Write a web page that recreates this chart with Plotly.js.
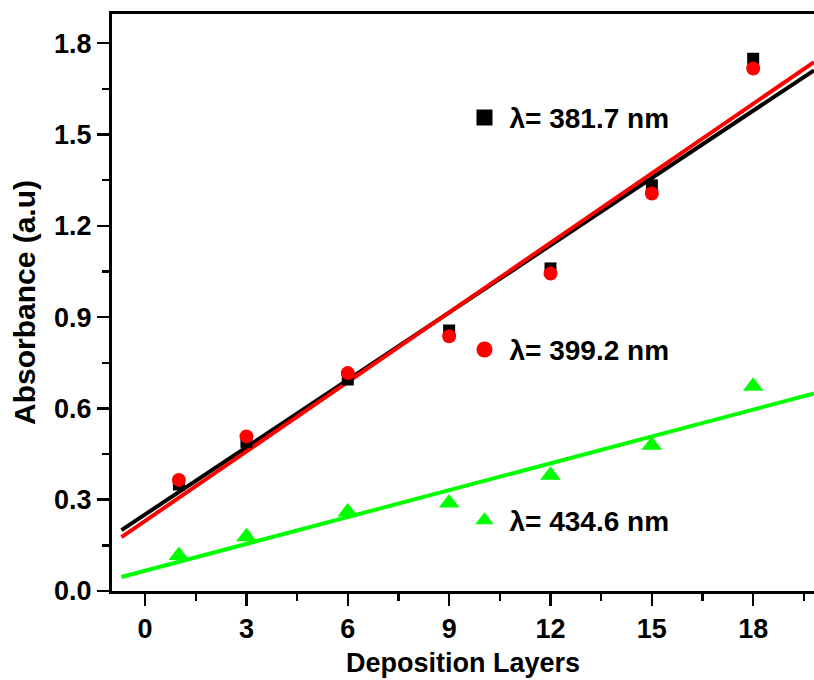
<!DOCTYPE html>
<html>
<head>
<meta charset="utf-8">
<script src="https://cdn.plot.ly/plotly-3.0.1.min.js"></script>
<style>html,body{margin:0;padding:0;background:#fff;}#chart{width:814px;height:680px;}</style>
</head>
<body>
<div id="chart"></div>
<script>
// Data
const layers = [1, 3, 6, 9, 12, 15, 18];
const abs381 = [0.35, 0.49, 0.695, 0.856, 1.06, 1.333, 1.749];
const abs399 = [0.365, 0.508, 0.716, 0.837, 1.043, 1.306, 1.717];
const abs434 = [0.117, 0.178, 0.26, 0.289, 0.38, 0.479, 0.673];
// Linear fit lines (end points)
const fitX = [-0.7, 19.8];
const fit381 = [0.200, 1.711];
const fit399 = [0.177, 1.738];
const fit434 = [0.046, 0.649];
const names = ['λ= 381.7 nm', 'λ= 399.2 nm', 'λ= 434.6 nm'];
const xTicks = [0, 3, 6, 9, 12, 15, 18];
const yTicks = [0.0, 0.3, 0.6, 0.9, 1.2, 1.5, 1.8];

const FONT = '"Liberation Sans", Arial, Helvetica, sans-serif';
const BLACK = '#000000', RED = '#ff0000', GREEN = '#00ff00';

const traces = [
  {x: fitX, y: fit381, mode: 'lines', line: {color: BLACK, width: 4}, showlegend: false, hoverinfo: 'skip'},
  {x: fitX, y: fit399, mode: 'lines', line: {color: RED, width: 4}, showlegend: false, hoverinfo: 'skip'},
  {x: fitX, y: fit434, mode: 'lines', line: {color: GREEN, width: 4}, showlegend: false, hoverinfo: 'skip'},
  {x: layers, y: abs381, mode: 'markers', name: names[0], showlegend: false,
   marker: {symbol: 'square', size: 12, color: BLACK}},
  {x: layers, y: abs399, mode: 'markers', name: names[1], showlegend: false,
   marker: {symbol: 'circle', size: 14, color: RED}},
  {x: layers, y: abs434, mode: 'markers', name: names[2], showlegend: false,
   marker: {symbol: 'triangle-up', size: 18, color: GREEN}},
  // legend entries (larger symbols, as in the reference key)
  {x: [null], y: [null], mode: 'markers', name: names[0], legend: 'legend',
   marker: {symbol: 'square', size: 16, color: BLACK}},
  {x: [null], y: [null], mode: 'markers', name: names[1], legend: 'legend2',
   marker: {symbol: 'circle', size: 16, color: RED}},
  {x: [null], y: [null], mode: 'markers', name: names[2], legend: 'legend3',
   marker: {symbol: 'triangle-up', size: 16, color: GREEN}}
];

const legendBase = {
  xanchor: 'left', yanchor: 'middle', bgcolor: 'rgba(0,0,0,0)', borderwidth: 0,
  font: {family: FONT, size: 28, color: BLACK, weight: 'bold'}, itemwidth: 40
};

const layout = {
  width: 814, height: 680,
  margin: {l: 112, r: 0, t: 14, b: 89},
  paper_bgcolor: '#ffffff', plot_bgcolor: '#ffffff',
  font: {family: FONT, color: BLACK, weight: 'bold'},
  xaxis: {
    range: [-0.98, 19.8],
    tickvals: xTicks, ticktext: xTicks.map(String),
    ticks: 'outside', ticklen: 12, tickwidth: 2.5, tickcolor: BLACK,
    minor: {dtick: 1.5, tick0: 1.5, ticks: 'outside', ticklen: 7, tickwidth: 2.5, tickcolor: BLACK},
    showline: true, linewidth: 3, linecolor: BLACK, mirror: true,
    showgrid: false, zeroline: false,
    tickfont: {family: FONT, size: 27, color: BLACK, weight: 'bold'},
    title: {text: 'Deposition Layers', font: {family: FONT, size: 27, color: BLACK, weight: 'bold'}, standoff: 10}
  },
  yaxis: {
    range: [0, 1.896],
    tickvals: yTicks, ticktext: yTicks.map(v => v.toFixed(1)),
    ticks: 'outside', ticklen: 12, tickwidth: 2.5, tickcolor: BLACK,
    minor: {dtick: 0.15, tick0: 0.15, ticks: 'outside', ticklen: 7, tickwidth: 2.5, tickcolor: BLACK},
    showline: true, linewidth: 3, linecolor: BLACK, mirror: false,
    showgrid: false, zeroline: false,
    tickfont: {family: FONT, size: 27, color: BLACK, weight: 'bold'},
    title: {text: 'Absorbance (a.u)', font: {family: FONT, size: 30, color: BLACK, weight: 'bold'}, standoff: 10}
  },
  legend: Object.assign({}, legendBase, {x: 0.495, y: 0.82}),
  legend2: Object.assign({}, legendBase, {x: 0.495, y: 0.418}),
  legend3: Object.assign({}, legendBase, {x: 0.495, y: 0.122})
};

Plotly.newPlot('chart', traces, layout, {displayModeBar: false, staticPlot: true});
</script>
</body>
</html>
